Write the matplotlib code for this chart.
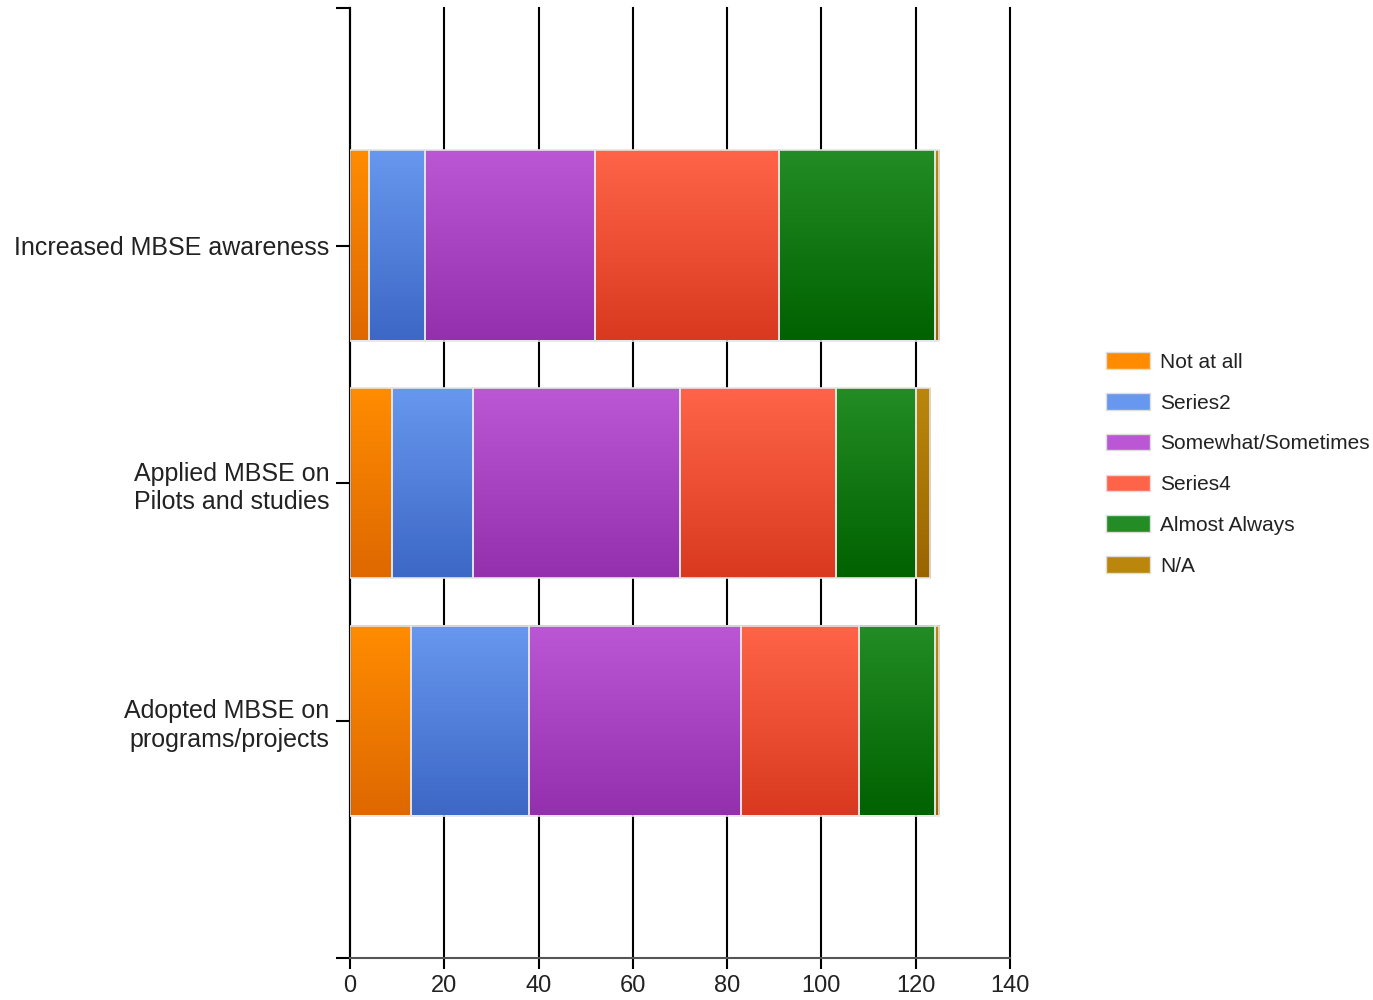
import numpy as np
import matplotlib.pyplot as plt
from matplotlib.colors import LinearSegmentedColormap
from matplotlib.patches import Patch

# categories bottom to top
categories = ['Adopted MBSE on\nprograms/projects', 'Applied MBSE on\nPilots and studies', 'Increased MBSE awareness']
series_names = ['Not at all', 'Series2', 'Somewhat/Sometimes', 'Series4', 'Almost Always', 'N/A']
not_at_all = [13, 9, 4]
series2 = [25, 17, 12]
somewhat = [45, 44, 36]
series4 = [25, 33, 39]
almost_always = [16, 17, 33]
na = [1, 3, 1]
x_ticks = [0, 20, 40, 60, 80, 100, 120, 140]

# gradient colours (top, bottom)
colors = [('#ff8c00', '#df6800'),
          ('#6797ee', '#3d68c6'),
          ('#bb56d4', '#9430ae'),
          ('#ff6448', '#d93a1f'),
          ('#238c24', '#006200'),
          ('#ba870c', '#9a6500')]

plt.rcParams['font.family'] = ['Liberation Sans', 'DejaVu Sans']
fig = plt.figure(figsize=(13.73, 10), dpi=100)
ax = fig.add_axes([350 / 1373, 42 / 1000, 660 / 1373, 950 / 1000])

data = [not_at_all, series2, somewhat, series4, almost_always, na]
y = np.arange(1, len(categories) + 1)
height = 0.8
grad = np.linspace(0, 1, 64).reshape(-1, 1)
left = np.zeros(len(categories))
for vals, (c_top, c_bot) in zip(data, colors):
    cmap = LinearSegmentedColormap.from_list('g', [c_top, c_bot])
    for yi, l, v in zip(y, left, vals):
        ax.imshow(grad, cmap=cmap, aspect='auto', origin='upper',
                  extent=(l, l + v, yi - height / 2, yi + height / 2), zorder=2)
        ax.add_patch(plt.Rectangle((l, yi - height / 2), v, height, fill=False,
                                   edgecolor='#e4e4e4', linewidth=1.2, zorder=3))
    left += np.array(vals)

ax.set_xlim(0, 140)
ax.set_ylim(0, 4)
ax.set_xticks(x_ticks)
ax.set_xticklabels([str(t) for t in x_ticks])
ax.set_yticks([0, 1, 2, 3, 4])
ax.set_yticklabels([''] + categories + [''], linespacing=1.25)
for t in x_ticks:
    ax.axvline(t, color='black', linewidth=1.5, zorder=1, clip_on=False)
for s in ['top', 'right']:
    ax.spines[s].set_visible(False)
ax.spines['left'].set_linewidth(1.5)
ax.spines['bottom'].set_linewidth(1.5)
ax.spines['bottom'].set_color('#555555')
ax.tick_params(axis='y', length=10, width=1.5, labelsize=18, colors='black',
               labelcolor='#222222', pad=5)
ax.tick_params(axis='x', length=8, width=1.5, labelsize=17, colors='black',
               labelcolor='#222222', pad=4)

handles = [Patch(facecolor=c[0], edgecolor='#dddddd') for c in colors]
fig.legend(handles, series_names, loc='center left', bbox_to_anchor=(1087 / 1373, 0.536),
           frameon=False, fontsize=15, handlelength=2.1, handleheight=0.85,
           labelspacing=1.02, handletextpad=0.5, labelcolor='#222222')

fig.savefig('out.png', dpi=100)
